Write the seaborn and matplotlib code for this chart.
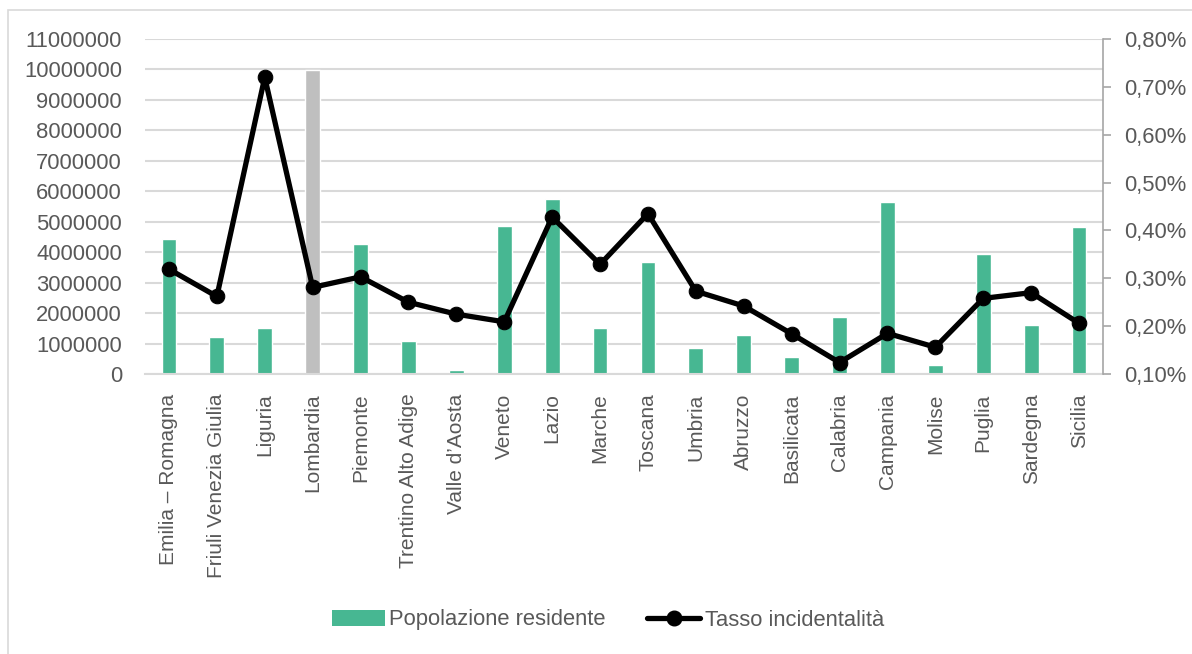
import numpy as np
import pandas as pd
import matplotlib
matplotlib.use("Agg")
import matplotlib.pyplot as plt
from matplotlib.patches import Patch, Rectangle
from matplotlib.lines import Line2D
from matplotlib.ticker import FuncFormatter, FixedLocator
import seaborn as sns

regions = ["Emilia \u2013 Romagna", "Friuli Venezia Giulia", "Liguria", "Lombardia",
           "Piemonte", "Trentino Alto Adige", "Valle d\u2019Aosta", "Veneto", "Lazio",
           "Marche", "Toscana", "Umbria", "Abruzzo", "Basilicata", "Calabria",
           "Campania", "Molise", "Puglia", "Sardegna", "Sicilia"]
population = [4430000, 1200000, 1510000, 9980000, 4270000, 1070000, 130000, 4870000,
              5740000, 1500000, 3690000, 850000, 1280000, 550000, 1860000, 5640000,
              290000, 3940000, 1600000, 4840000]
rate_pct = [0.319, 0.262, 0.720, 0.281, 0.303, 0.250, 0.225, 0.209, 0.428, 0.329,
            0.435, 0.273, 0.242, 0.184, 0.124, 0.185, 0.156, 0.258, 0.270, 0.206]
left_ticks = list(range(0, 11000001, 1000000))
right_ticks = [0.10, 0.20, 0.30, 0.40, 0.50, 0.60, 0.70, 0.80]
series_names = ["Popolazione residente", "Tasso incidentalit\u00e0"]

GREEN = "#47B792"
GRAY = "#BFBFBF"
TXT = "#595959"
GRID = "#D9D9D9"

sns.set_theme(style="white")
plt.rcParams["font.family"] = ["Liberation Sans", "DejaVu Sans"]

fig = plt.figure(figsize=(11.92, 6.54), dpi=100)
ax = fig.add_axes([145/1192, 1-374/654, (1103-145)/1192, (374-39)/654])

df = pd.DataFrame({"region": regions, "pop": population, "rate": rate_pct})
palette = {r: (GRAY if r == "Lombardia" else GREEN) for r in regions}
sns.barplot(data=df, x="region", y="pop", hue="region", palette=palette,
            legend=False, width=0.31, ax=ax, saturation=1, zorder=2)

ax.set_ylim(0, 11000000)
ax.set_xlim(-0.5, len(regions)-0.5)
ax.yaxis.set_major_locator(FixedLocator(left_ticks))
ax.yaxis.set_major_formatter(FuncFormatter(lambda v, p: f"{int(v)}"))
ax.grid(axis="y", color=GRID, linewidth=1.5, zorder=0)
ax.set_axisbelow(True)
for s in ["left", "top", "right"]:
    ax.spines[s].set_visible(False)
ax.spines["bottom"].set_color(GRID)
ax.spines["bottom"].set_linewidth(1.5)
ax.set_xlabel("")
ax.set_ylabel("")
ax.tick_params(axis="y", length=0, labelsize=15.8, labelcolor=TXT, pad=16.5)
ax.tick_params(axis="x", length=0, labelsize=15, labelcolor=TXT, pad=14)
ax.set_xticks(range(len(regions)))
ax.set_xticklabels(regions, rotation=90, ha="center", va="top")

ax2 = ax.twinx()
sns.lineplot(x=np.arange(len(regions)), y=rate_pct, ax=ax2, color="black",
             linewidth=3.8, marker="o", markersize=10.5, markeredgecolor="black",
             zorder=5)
ax2.set_ylim(0.10, 0.80)
ax2.set_xlim(-0.5, len(regions)-0.5)
ax2.yaxis.set_major_locator(FixedLocator(right_ticks))
ax2.yaxis.set_major_formatter(FuncFormatter(lambda v, p: f"{v:.2f}%".replace(".", ",")))
for s in ["left", "top", "bottom"]:
    ax2.spines[s].set_visible(False)
ax2.spines["right"].set_color("#A6A6A6")
ax2.spines["right"].set_linewidth(1.2)
ax2.tick_params(axis="y", direction="out", length=5.5, width=1.2, color="#A6A6A6",
                labelsize=15.8, labelcolor=TXT, pad=10)
ax2.set_ylabel("")
ax2.grid(False)

handles = [Patch(facecolor=GREEN, edgecolor="none"),
           Line2D([0], [0], color="black", linewidth=3.8, marker="o", markersize=10.5)]
fig.legend(handles, series_names, loc="center", bbox_to_anchor=(608/1192, 1-620/654),
           ncol=2, frameon=False, fontsize=15.8, labelcolor=TXT, handlelength=2.4,
           handletextpad=0.2, columnspacing=1.9)

fig.patches.append(Rectangle((8/1192, -0.05), 1.1, 1.05-10/654, transform=fig.transFigure,
                             fill=False, edgecolor=GRID, linewidth=1.2))

fig.savefig("out.png", dpi=100)
